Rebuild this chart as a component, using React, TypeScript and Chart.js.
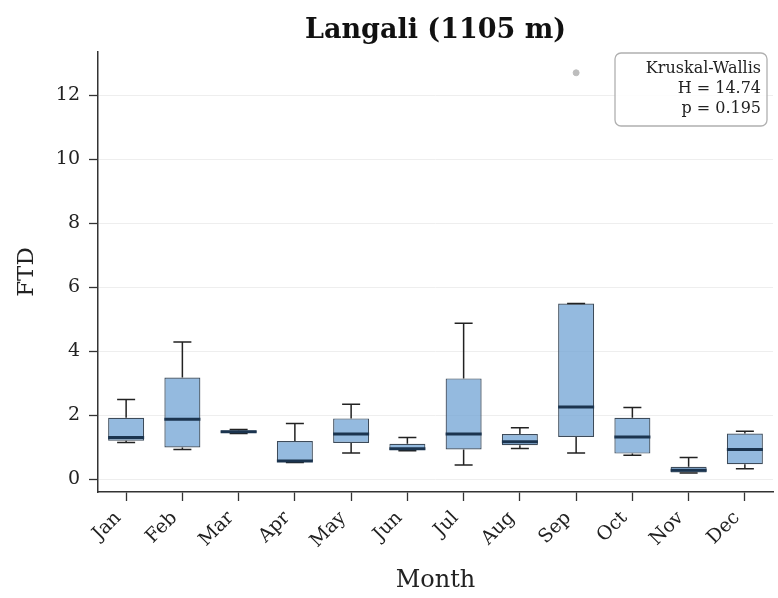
import React, { useEffect, useRef } from "react";
import { Chart, registerables } from "chart.js";

Chart.register(...registerables);

const months = ["Jan", "Feb", "Mar", "Apr", "May", "Jun", "Jul", "Aug", "Sep", "Oct", "Nov", "Dec"];
const whiskerLow = [1.15, 0.93, 1.43, 0.52, 0.82, 0.89, 0.44, 0.96, 0.82, 0.75, 0.19, 0.33];
const q1 = [1.2, 0.99, 1.45, 0.55, 1.13, 0.91, 0.93, 1.06, 1.32, 0.8, 0.21, 0.47];
const median = [1.3, 1.875, 1.48, 0.57, 1.41, 0.95, 1.41, 1.17, 2.26, 1.32, 0.28, 0.93];
const q3 = [1.92, 3.18, 1.52, 1.19, 1.9, 1.11, 3.15, 1.41, 5.49, 1.92, 0.39, 1.43];
const whiskerHigh = [2.49, 4.29, 1.55, 1.74, 2.34, 1.3, 4.87, 1.61, 5.49, 2.24, 0.68, 1.5];
const outliers: (number | null)[] = [null, null, null, null, null, null, null, null, 12.7, null, null, null];
const yTicks = [0, 2, 4, 6, 8, 10, 12];
const statLines = ["Kruskal-Wallis", "H = 14.74", "p = 0.195"];
const titleText = "Langali (1105 m)";
const xTitle = "Month";
const yTitle = "FTD";

const FONT = "'DejaVu Serif', 'Liberation Serif', serif";

const boxPlugin = {
  id: "boxWhiskers",
  afterDatasetsDraw(chart: any) {
    const ctx = chart.ctx;
    const xs = chart.scales.x;
    const ys = chart.scales.y;
    const meta = chart.getDatasetMeta(0);
    ctx.save();
    months.forEach((_, i) => {
      const bar = meta.data[i];
      const cx = xs.getPixelForValue(i);
      const half = bar.width / 2;
      const capHalf = half / 2;
      const yLo = ys.getPixelForValue(whiskerLow[i]);
      const yQ1 = ys.getPixelForValue(q1[i]);
      const yQ3 = ys.getPixelForValue(q3[i]);
      const yHi = ys.getPixelForValue(whiskerHigh[i]);
      const yMed = ys.getPixelForValue(median[i]);
      ctx.strokeStyle = "#222222";
      ctx.lineWidth = 1.5;
      ctx.beginPath();
      ctx.moveTo(cx, yQ3);
      ctx.lineTo(cx, yHi);
      ctx.moveTo(cx - capHalf, yHi);
      ctx.lineTo(cx + capHalf, yHi);
      ctx.moveTo(cx, yQ1);
      ctx.lineTo(cx, yLo);
      ctx.moveTo(cx - capHalf, yLo);
      ctx.lineTo(cx + capHalf, yLo);
      ctx.stroke();
      ctx.strokeStyle = "#1b344f";
      ctx.lineWidth = 3;
      ctx.beginPath();
      ctx.moveTo(cx - half, yMed);
      ctx.lineTo(cx + half, yMed);
      ctx.stroke();
    });
    ctx.restore();
  },
};

const titlePlugin = {
  id: "axesTitle",
  afterDraw(chart: any) {
    const ctx = chart.ctx;
    const a = chart.chartArea;
    ctx.save();
    ctx.fillStyle = "#111";
    ctx.font = `bold 27px ${FONT}`;
    ctx.textAlign = "center";
    ctx.textBaseline = "alphabetic";
    ctx.fillText(titleText, (a.left + a.right) / 2, a.top - 14);
    ctx.restore();
  },
};

const statsPlugin = {
  id: "statsBox",
  afterDraw(chart: any) {
    const ctx = chart.ctx;
    const a = chart.chartArea;
    const w = 152;
    const h = 73;
    const x0 = a.right - 6 - w;
    const y0 = a.top + 1;
    ctx.save();
    ctx.fillStyle = "rgba(255,255,255,0.85)";
    ctx.strokeStyle = "#b0b0b0";
    ctx.lineWidth = 1.3;
    ctx.beginPath();
    (ctx as any).roundRect(x0, y0, w, h, 6);
    ctx.fill();
    ctx.stroke();
    ctx.fillStyle = "#222";
    ctx.font = `16px ${FONT}`;
    ctx.textAlign = "right";
    ctx.textBaseline = "middle";
    statLines.forEach((t, k) => {
      ctx.fillText(t, x0 + w - 6, y0 + 16 + k * 20);
    });
    ctx.restore();
  },
};

export default function App() {
  const ref = useRef<HTMLCanvasElement>(null);
  useEffect(() => {
    const chart = new Chart(ref.current!, {
      type: "bar",
      data: {
        labels: months,
        datasets: [
          {
            type: "bar",
            data: months.map((_, i) => [q1[i], q3[i]]) as any,
            backgroundColor: "rgba(112,163,212,0.75)",
            borderColor: "#3d4b5a",
            borderWidth: 1.2,
            borderSkipped: false,
            barPercentage: 0.64,
            categoryPercentage: 1,
          },
          {
            type: "line",
            data: outliers as any,
            showLine: false,
            pointRadius: 3,
            pointBackgroundColor: "#bdbdbd",
            pointBorderColor: "#bdbdbd",
            borderColor: "#bdbdbd",
          },
        ],
      },
      options: {
        responsive: false,
        animation: false,
        layout: { padding: { left: 0, right: 3, top: 52, bottom: 0 } },
        plugins: {
          legend: { display: false },
          tooltip: { enabled: false },
          title: { display: false },
        },
        scales: {
          x: {
            offset: true,
            grid: {
              offset: false,
              drawOnChartArea: false,
              drawTicks: true,
              tickLength: 9,
              tickColor: "#333",
              tickWidth: 1.3,
            },
            border: { display: true, color: "#333", width: 1.5 },
            ticks: {
              minRotation: 45,
              maxRotation: 45,
              color: "#222",
              padding: 6,
              labelOffset: -8,
              font: { family: FONT, size: 19 },
            },
            title: {
              display: true,
              text: xTitle,
              color: "#222",
              font: { family: FONT, size: 24 },
              padding: { top: 0, bottom: 3 },
            },
            afterFit: (s: any) => {
              s.height = 106;
            },
          },
          y: {
            min: -0.4,
            max: 13.35,
            grid: {
              color: "#eeeeee",
              lineWidth: 1,
              drawTicks: true,
              tickLength: 9,
              tickColor: "#333",
              tickWidth: 1.3,
            },
            border: { display: true, color: "#333", width: 1.5 },
            afterBuildTicks: (s: any) => {
              s.ticks = yTicks.map((v) => ({ value: v }));
            },
            ticks: {
              color: "#222",
              padding: 9,
              font: { family: FONT, size: 19 },
            },
            title: {
              display: true,
              text: yTitle,
              color: "#222",
              font: { family: FONT, size: 23 },
              padding: { top: 13, bottom: 4 },
            },
            afterFit: (s: any) => {
              s.width = 98;
            },
          },
        },
      },
      plugins: [boxPlugin, statsPlugin, titlePlugin],
    });
    return () => chart.destroy();
  }, []);
  return (
    <div style={{ position: "absolute", left: 0, top: 0, width: 778, height: 598, background: "#fff" }}>
      <canvas ref={ref} width={778} height={598} />
    </div>
  );
}
